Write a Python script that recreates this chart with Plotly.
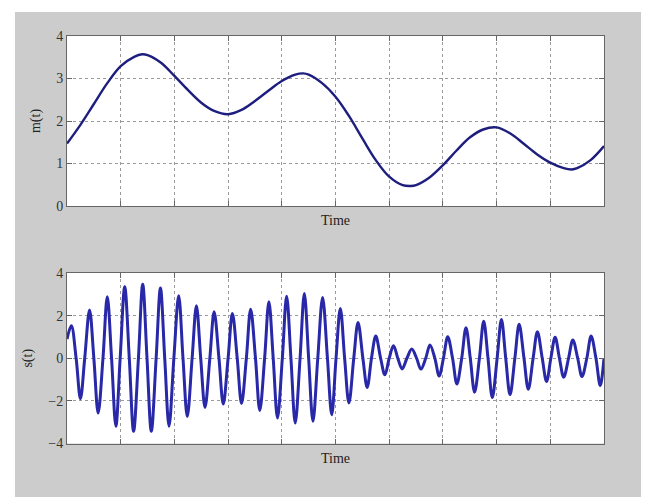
import plotly.graph_objects as go

# ---- message signal m(t): points ----
m_time = [0.0, 0.25, 0.5, 0.75, 1.0, 1.25, 1.4, 1.5, 1.75, 2.0, 2.25, 2.5, 2.75, 3.0,
          3.25, 3.5, 3.75, 4.0, 4.25, 4.4, 4.5, 4.75, 5.0, 5.25, 5.5, 5.75, 6.0, 6.25,
          6.4, 6.5, 6.75, 7.0, 7.25, 7.5, 7.75, 8.0, 8.25, 8.5, 8.75, 9.0, 9.25, 9.4,
          9.5, 9.75, 10.0]
m_value = [1.47, 1.91, 2.40, 2.89, 3.29, 3.51, 3.57, 3.55, 3.37, 3.06, 2.73, 2.43, 2.23, 2.16,
           2.26, 2.47, 2.71, 2.94, 3.09, 3.12, 3.09, 2.89, 2.57, 2.12, 1.59, 1.08, 0.69, 0.49,
           0.47, 0.49, 0.67, 0.96, 1.30, 1.61, 1.80, 1.85, 1.71, 1.47, 1.22, 1.02, 0.89, 0.86,
           0.89, 1.08, 1.41]

# ---- modulated signal s(t): start, alternating peaks/troughs, end ----
s_time = [0.0, 0.08, 0.25, 0.42, 0.58, 0.75, 0.91, 1.075, 1.24, 1.41, 1.57, 1.74, 1.90,
          2.08, 2.24, 2.41, 2.57, 2.74, 2.91, 3.08, 3.25, 3.42, 3.59, 3.76, 3.92, 4.09,
          4.25, 4.42, 4.58, 4.76, 4.93, 5.09, 5.25, 5.42, 5.59, 5.75, 5.92, 6.08, 6.24,
          6.42, 6.59, 6.76, 6.93, 7.09, 7.26, 7.43, 7.59, 7.76, 7.92, 8.09, 8.25, 8.42,
          8.59, 8.76, 8.93, 9.09, 9.25, 9.42, 9.59, 9.76, 9.93, 10.0]
s_value = [0.9, 1.52, -1.90, 2.26, -2.57, 2.88, -3.19, 3.35, -3.43, 3.47, -3.43, 3.30, -3.19,
           2.93, -2.73, 2.46, -2.31, 2.18, -2.15, 2.10, -2.12, 2.30, -2.45, 2.65, -2.80, 2.91,
           -3.04, 3.04, -2.96, 2.85, -2.65, 2.34, -2.10, 1.68, -1.37, 1.04, -0.78, 0.59, -0.50,
           0.43, -0.51, 0.62, -0.83, 1.01, -1.21, 1.43, -1.59, 1.74, -1.84, 1.82, -1.71, 1.59,
           -1.45, 1.24, -1.09, 0.98, -0.89, 0.86, -0.86, 1.04, -1.28, 0.0]
# times where s(t) crosses zero, read between the peaks and troughs
s_zero_time = [0.17, 0.33, 0.50, 0.67, 0.83, 0.99, 1.16, 1.33, 1.49, 1.66, 1.82, 1.99,
               2.16, 2.33, 2.49, 2.66, 2.83, 3.00, 3.17, 3.34, 3.51, 3.68, 3.84, 4.01,
               4.17, 4.34, 4.50, 4.67, 4.85, 5.01, 5.17, 5.34, 5.51, 5.67, 5.84, 6.00,
               6.16, 6.33, 6.51, 6.68, 6.85, 7.01, 7.18, 7.35, 7.51, 7.68, 7.84, 8.01,
               8.17, 8.34, 8.51, 8.68, 8.85, 9.01, 9.17, 9.34, 9.51, 9.68, 9.85]

top_yticks = [0, 1, 2, 3, 4]
bottom_yticks = [-4, -2, 0, 2, 4]
x_ticks = list(range(0, 11))

# merge extrema and zero crossings into one ordered series
s_pairs = sorted(list(zip(s_time, s_value)) + [(t, 0.0) for t in s_zero_time])
s_x = [p[0] for p in s_pairs]
s_y = [p[1] for p in s_pairs]

W, H = 649, 500
OFF = 8  # page body margin of the html page
FONT = "Liberation Serif, Times New Roman, serif"

fig = go.Figure()
fig.add_trace(go.Scatter(x=m_time, y=m_value, mode="lines",
                         line=dict(color="#1e1e7e", width=2.4, shape="spline", smoothing=1.0),
                         xaxis="x", yaxis="y", showlegend=False, hoverinfo="skip"))
fig.add_trace(go.Scatter(x=s_x, y=s_y, mode="lines",
                         line=dict(color="#2828a8", width=3.0, shape="spline", smoothing=1.0),
                         xaxis="x2", yaxis="y2", showlegend=False, hoverinfo="skip"))

def px_x(p):
    return (p - OFF) / W

def px_y(p):
    return (H - (p - OFF)) / H

xdom = [px_x(67), px_x(604)]
top_dom = [px_y(206), px_y(36)]
bot_dom = [px_y(443.5), px_y(273)]

axis_common = dict(showline=True, linecolor="#666666", linewidth=1, mirror="ticks",
                   ticks="inside", ticklen=5, tickcolor="#666666", automargin=False,
                   showgrid=True, gridcolor="#9a9a9a", griddash="dot", gridwidth=1,
                   zeroline=False, tickfont=dict(family=FONT, size=14, color="#333333"))
title_font = dict(family=FONT, size=14, color="#222222")

fig.update_layout(
    template="none",
    width=W, height=H,
    margin=dict(l=0, r=0, t=0, b=0, pad=0),
    paper_bgcolor="white", plot_bgcolor="white",
    font=dict(family=FONT, size=14, color="#222222"),
    xaxis=dict(domain=xdom, range=[0, 10], tickvals=x_ticks, showticklabels=False,
               anchor="y", title=dict(text="Time", standoff=9, font=title_font),
               **axis_common),
    yaxis=dict(domain=top_dom, range=[0, 4], tickvals=top_yticks, anchor="x",
               title=dict(text="m(t)", standoff=12, font=title_font),
               **axis_common),
    xaxis2=dict(domain=xdom, range=[0, 10], tickvals=x_ticks, showticklabels=False,
                anchor="y2", title=dict(text="Time", standoff=9, font=title_font),
                **axis_common),
    yaxis2=dict(domain=bot_dom, range=[-4, 4], tickvals=bottom_yticks, anchor="x2",
                title=dict(text="s(t)", standoff=12, font=title_font),
                **axis_common),
    shapes=[
        dict(type="rect", xref="paper", yref="paper", layer="below",
             x0=px_x(15), x1=px_x(645), y0=px_y(497), y1=px_y(12),
             fillcolor="#cccccc", line=dict(width=0)),
        dict(type="rect", xref="paper", yref="paper", layer="below",
             x0=xdom[0], x1=xdom[1], y0=top_dom[0], y1=top_dom[1],
             fillcolor="white", line=dict(width=0)),
        dict(type="rect", xref="paper", yref="paper", layer="below",
             x0=xdom[0], x1=xdom[1], y0=bot_dom[0], y1=bot_dom[1],
             fillcolor="white", line=dict(width=0)),
    ],
)

fig.write_html("out.html")
